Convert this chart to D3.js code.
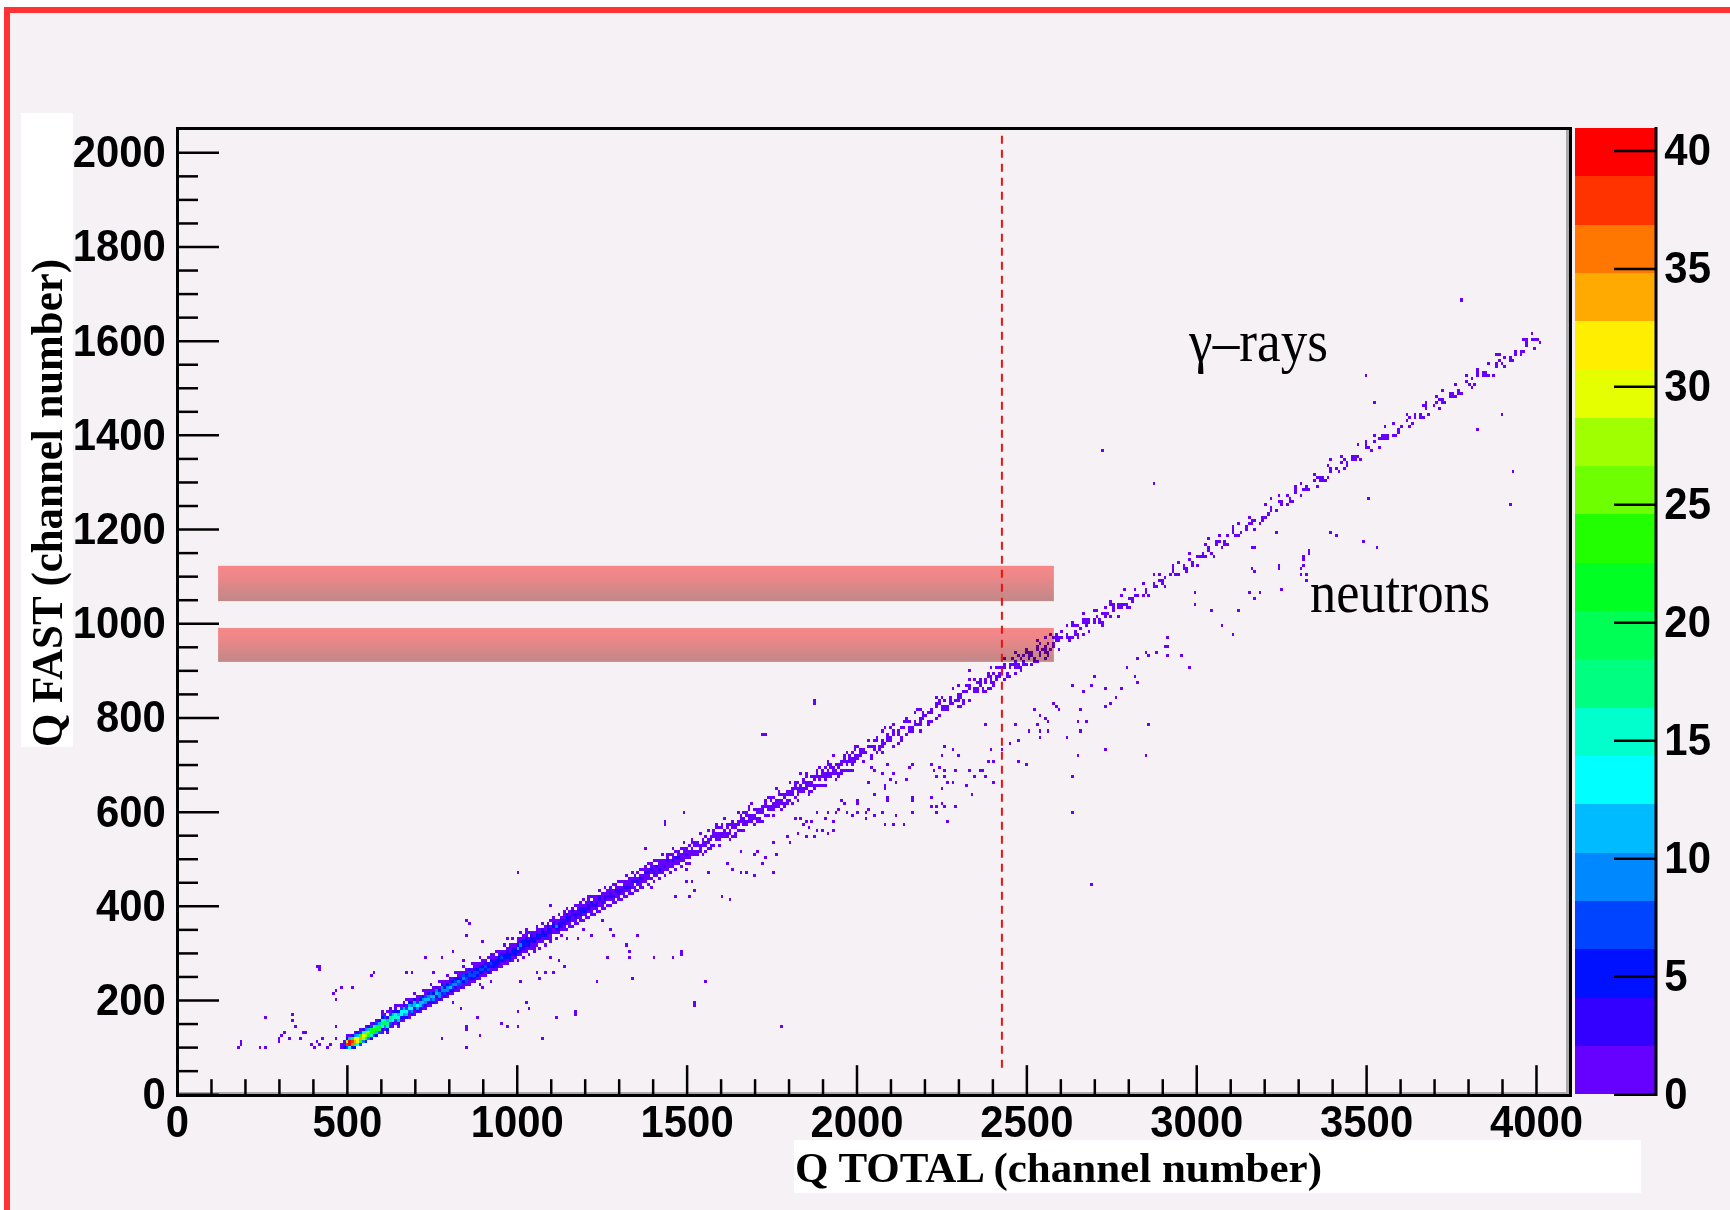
<!DOCTYPE html>
<html>
<head>
<meta charset="UTF-8">
<title>Q FAST vs Q TOTAL</title>
<script src="https://d3js.org/d3.v7.min.js"></script>
<style>
  html, body { margin: 0; padding: 0; background: #fff; }
  svg { display: block; }
  .tick text { font-family: "Liberation Sans", Arial, sans-serif; font-weight: bold; font-size: 45px; fill: #000; }
  .tick line { stroke: #000; stroke-width: 2.5px; }
</style>
</head>
<body>
<svg id="chart" width="1730" height="1210"></svg>
<script>

/* DATA */

// axis ranges (channels) and histogram binning
var qRange = [0, 4096];
var fRange = [0, 2048];
var zMax = 40.95;
var xBin = 8, yBin = 6.4;

var xMajor = [0, 500, 1000, 1500, 2000, 2500, 3000, 3500, 4000];
var xMinor = [100, 200, 300, 400, 600, 700, 800, 900, 1100, 1200, 1300, 1400, 1600, 1700, 1800, 1900,
  2100, 2200, 2300, 2400, 2600, 2700, 2800, 2900, 3100, 3200, 3300, 3400, 3600, 3700, 3800, 3900];
var yMajor = [0, 200, 400, 600, 800, 1000, 1200, 1400, 1600, 1800, 2000];
var yMinor = [50, 100, 150, 250, 300, 350, 450, 500, 550, 650, 700, 750, 850, 900, 950, 1050, 1100, 1150,
  1250, 1300, 1350, 1450, 1500, 1550, 1650, 1700, 1750, 1850, 1900, 1950];
var zTicks = [0, 5, 10, 15, 20, 25, 30, 35, 40];

// colour palette, 20 contours from 0 to zMax
var palette = ["#6600ff", "#3300ff", "#0011ff", "#0044ff", "#0088ff", "#00bbff", "#00ffff", "#00ffcc",
  "#00ff80", "#00ff55", "#00ff22", "#22ff00", "#6eff00", "#a0ff00", "#e5ff00", "#ffee00",
  "#ffaa00", "#ff7700", "#ff3300", "#ff0000"];

// gamma band, dense part: [Q total, lowest Q fast, counts in successive Q fast bins]
var gammaLow = [
  [480,96,[2,1]],[488,96,[5,2,1]],[496,96,[8,37,28,5,1]],[504,96,[14,39,39,12,2]],[512,97,[6,35,37,20,4]],
  [520,100,[6,24,34,30,9,1]],[528,104,[14,32,29,12,3]],[536,107,[7,23,33,24,8,2]],[544,110,[10,27,29,13,4]],
  [552,114,[5,19,27,25,9,2]],[560,117,[9,24,25,12,3]],[568,121,[4,15,24,22,8,1]],[576,124,[8,21,23,14,4]],
  [584,127,[3,12,22,19,7,2]],[592,131,[7,19,21,11,3]],
  [600,128,[1,4,14,20,16,5,1,1]],[608,131,[0,2,9,19,18,8,2]],[616,134,[1,5,15,18,12,4,0,1]],[624,137,[0,2,8,17,17,7,1,1]],
  [632,141,[1,4,13,16,11,3]],[640,144,[0,1,7,15,16,6,2,1]],[648,147,[1,3,11,15,12,4,0,1]],[656,150,[0,1,6,13,14,7,1]],
  [664,154,[1,3,10,14,11,3,1]],[672,157,[0,5,12,14,8,2,0,1]],[680,160,[1,2,7,13,12,5,1]],[688,163,[0,3,10,13,9,3,1]],
  [696,167,[1,1,6,12,12,5,0,1]],[704,170,[0,3,9,13,8,2,1]],[712,173,[1,5,11,12,6,1]],[720,176,[0,2,7,12,10,4,0,1]],
  [728,180,[1,3,9,11,7,2,1]],[736,183,[0,1,5,11,10,4,1]],[744,186,[1,3,8,11,7,2,0,1]],[752,189,[0,4,10,12,6,1,1]],
  [760,193,[1,2,6,11,9,3]],[768,196,[0,3,9,10,6,2,0,1]],[776,199,[1,1,5,10,9,4,1]],[784,202,[0,3,8,10,5,1,1]],
  [792,206,[1,4,9,9,5,2,0,1]],[800,209,[0,2,6,11,7,3,1]],[808,212,[1,3,8,9,5,1]],[816,215,[0,1,4,9,8,3,0,1]],
  [824,219,[1,2,7,9,5,2,1]],[832,222,[0,3,8,8,4,1,1]],[840,225,[1,1,5,9,7,2,0,1]],[848,228,[0,2,7,8,5,1,1]],
  [856,232,[1,1,4,8,7,3]],[864,235,[0,2,6,8,5,2,0,1]],[872,238,[1,3,7,7,3,1,1]],[880,241,[0,1,5,8,6,2,1]],
  [888,245,[1,2,6,7,4,1,0,1]],[896,248,[0,1,3,7,6,2,1]],[904,251,[1,2,6,7,4,1]],[912,254,[0,3,7,6,3,0,1]],
  [920,258,[1,1,4,7,5,2,1]],[928,261,[0,2,6,6,3,1,1]],[936,264,[1,3,6,6,2,0,1]],[944,267,[0,1,4,6,5,2,1]],
  [952,271,[1,2,5,7,3,1]],[960,274,[0,1,3,6,5,2,0,1]],[968,277,[1,2,5,6,3,1]],[976,280,[0,3,6,5,2,1,1]],
  [984,284,[1,1,4,6,4,1,0,1]],[992,287,[0,2,5,6,3,1]],
  [1000,286,[1,0,2,4,11,5,2,1]],[1008,289,[0,1,3,5,10,4,1,0,1]],[1016,293,[1,0,2,3,6,5,2,1]],[1024,296,[0,1,1,4,6,3,1,1]],
  [1032,299,[1,0,2,5,5,2,0,1]],[1040,303,[0,1,1,3,6,4,1]],[1048,306,[1,1,2,5,4,2,1]],[1056,309,[0,1,1,3,5,3,1,1]],
  [1064,313,[1,0,2,4,6,2,1]],[1072,316,[0,1,1,3,5,3,0,1]],[1080,319,[1,0,2,5,4,1,1]],[1088,322,[0,1,1,3,5,3,1]],
  [1096,326,[1,1,2,4,4,2,0,1]],[1104,329,[0,0,1,2,5,4,1,1]],[1112,332,[1,0,2,4,9,2,1]],[1120,336,[0,1,3,5,3,1,0,1]],
  [1128,339,[1,0,1,3,4,3,1]],[1136,342,[0,1,2,4,4,2,1,1]],[1144,346,[1,0,1,3,5,3,0,1]],[1152,349,[0,1,2,4,3,1,1]],
  [1160,352,[1,0,1,2,4,4,1]],[1168,356,[0,1,2,4,3,2,0,1]],[1176,359,[1,0,1,3,4,2,1]],[1184,362,[0,1,1,3,4,3,1,1]],
  [1192,365,[1,0,2,5,3,1,0,1]],[1200,369,[0,1,1,3,4,2,1]],[1208,372,[1,0,2,4,3,1,1,1]],[1216,375,[0,1,1,2,4,3,0,1]],
  [1224,379,[1,0,2,4,2,1,1]],[1232,382,[0,1,1,3,4,2,1]],[1240,385,[1,0,1,2,3,3,0,1]],[1248,389,[0,1,2,4,2,1,1]],
  [1256,392,[1,0,1,3,3,2,0,1]],[1264,395,[0,1,0,2,4,2,1]],[1272,399,[1,0,1,3,3,1,1]],[1280,402,[0,1,2,3,2,1,0,1]],
  [1288,405,[1,0,1,2,4,2,1]],[1296,408,[0,1,1,3,3,1,0,1]],[1304,412,[1,0,2,3,2,0,1]],[1312,415,[0,1,1,2,3,2,1]],
  [1320,418,[1,0,1,3,2,1,0,1]],[1328,422,[0,1,2,3,2,1,1]],[1336,425,[1,0,1,2,3,1,0,1]],[1344,428,[0,1,1,0,3,2,1]],
  [1352,432,[1,0,2,3,1,0,1]],[1360,435,[0,1,1,2,3,2,0,1]],[1368,438,[1,0,1,3,2,0,1]],[1376,442,[0,1,2,2,3,1,1]],
  [1384,445,[1,0,1,2,3,1,0,1]],[1392,448,[0,1,0,2,3,2,1]],[1400,452,[1,0,1,3,2,1,0,1]],[1408,455,[0,1,2,2,3,0,1]],
  [1416,458,[1,0,1,3,2,1,1]],[1424,461,[0,1,1,2,2,1,0,1]],[1432,465,[1,0,2,3,1,1]],[1440,468,[0,1,1,2,3,1,1]],
  [1448,471,[1,0,1,2,2,0,1]],[1456,475,[0,1,2,3,1,1,0,1]],[1464,478,[1,0,1,2,3,0,1]],[1472,481,[0,1,1,3,2,1]],
  [1480,485,[1,0,2,2,1,0,1]],[1488,488,[0,1,1,2,2,1,0,1]],[1496,491,[1,0,1,3,1,1]]
];

// gamma band, middle part
var gammaMid = [
  [1504,492,[1,0,1,2,1,0,1]],[1512,495,[0,0,1,1,1,0,1,1]],[1520,499,[0,0,2,1,0,1,1]],[1528,502,[0,1,1,0,2,1]],
  [1536,505,[0,0,1,2,1,0,0,0,1]],[1544,509,[1,0,0,2,1,1]],[1552,512,[1,0,1,1,0,1]],[1560,515,[0,1,0,1,1,0,0,1]],
  [1568,519,[1,1,0,1,1]],[1576,522,[0,1,0,0,1,2,1]],[1584,525,[0,0,1,1,1,0,1,1]],[1592,528,[1,0,1,2,1,0,1]],
  [1600,532,[0,0,2,1,0,1,1]],[1608,535,[0,0,1,2,1,0,0,0,1]],[1616,538,[0,1,1,0,2,1]],[1624,542,[1,0,1,1,0,1]],
  [1632,545,[1,0,0,2,1,1]],[1640,548,[1,1,0,1,1]],[1648,552,[0,1,0,1,1,0,0,1]],[1656,555,[0,1,0,0,1,2,1]],
  [1664,558,[1,0,1,2,1,0,1]],[1672,562,[0,0,2,1,0,1,1]],[1680,565,[0,0,1,1,1,0,1,1]],[1688,568,[0,0,1,2,1,0,0,0,1]],
  [1696,572,[1,0,1,1,0,1]],[1704,575,[0,1,1,0,2,1]],[1712,578,[1,1,0,1,1]],[1720,582,[1,0,0,2,1,1]],
  [1728,585,[0,1,0,0,1,2,1]],[1736,588,[0,1,0,1,1,0,0,1]],[1744,591,[0,0,2,1,0,1,1]],[1752,595,[1,0,1,2,1,0,1]],
  [1760,598,[0,0,1,2,1,0,0,0,1]],[1768,601,[0,0,1,1,1,0,1,1]],[1776,605,[1,0,1,1,0,1]],[1784,608,[1,1,0,1,1]],
  [1792,611,[0,1,1,0,2,1]],[1800,615,[0,1,0,1,1,0,0,1]],[1808,618,[1,0,0,2,1,1]],[1816,621,[0,1,0,0,1,2,1]],
  [1824,625,[1,0,1,2,1,0,1]],[1832,628,[0,0,1,2,1,0,0,0,1]],[1840,631,[0,0,2,1,0,1,1]],[1848,635,[0,0,1,1,1,0,1,1]],
  [1856,638,[1,1,0,1,1]],[1864,641,[1,0,1,1,0,1]],[1872,645,[0,1,1,0,2,1]],[1880,648,[0,1,0,0,1,2,1]],
  [1888,651,[0,1,0,1,1,0,0,1]],[1896,654,[1,0,0,2,1,1]],[1904,658,[1,0,1,2,1,0,1]],[1912,661,[0,0,1,1,1,0,1,1]],
  [1920,664,[0,0,2,1,0,1,1]],[1928,668,[0,0,1,2,1,0,0,0,1]],[1936,671,[1,0,1,1,0,1]],[1944,674,[1,1,0,1,1]],
  [1952,678,[0,1,1,0,2,1]],[1960,681,[0,1,0,0,1,2,1]],[1968,684,[0,1,0,1,1,0,0,1]],[1976,688,[1,0,0,2,1,1]],
  [1984,691,[1,0,1,2,1,0,1]],[1992,694,[0,0,1,1,1,0,1,1]]
];

// gamma band, upper sparse part
var gammaHigh = [
  [2000,698,[0,0,1,1,0,0,1]],[2008,701,[0,0,0,1,1,1]],[2016,705,[1,0,0,2,1]],[2024,708,[0,0,0,1]],
  [2032,711,[0,0,0,0,1,0,1]],[2040,715,[1,1,0,0,1]],[2048,718,[0,0,2,1,0,1]],[2056,721,[0,1,0,0,0,1,1]],
  [2064,725,[0,1,1]],[2072,728,[1,0,1,1,1,0,0,1]],[2080,731,[0,0,1,0,0,0,0,1]],[2088,735,[0,0,0,1,1,1]],
  [2096,738,[0,0,1,1,0,0,1]],[2104,741,[1,0,0,0,1,1,0,1]],[2120,748,[1,0,0,2,1]],[2128,751,[1,1,0,0,1]],
  [2136,755,[0,0,0,0,1,0,1]],[2144,758,[0,1,0,0,0,1,1]],[2152,761,[0,0,2,1,0,1]],[2160,764,[0,1,1]],
  [2168,768,[0,0,1,1,0,0,1]],[2176,771,[0,0,1,0,0,0,0,1]],[2184,774,[1,0,1,1,1,0,0,1]],[2192,778,[0,0,0,1,1,1]],
  [2200,781,[0,0,0,1]],[2208,784,[1,1,0,0,1]],[2216,788,[1,0,0,2,1]],[2232,794,[1,0,0,0,1,1,0,1]],
  [2240,797,[0,1,0,0,0,1,1]],[2248,801,[0,0,1,1,0,0,1]],[2256,804,[0,0,2,1,0,1]],[2264,807,[0,1,1]],
  [2272,811,[0,0,0,1,1,1]],[2280,814,[0,0,1,0,0,0,0,1]],[2288,817,[0,0,0,1]],[2296,821,[1,0,1,1,1,0,0,1]],
  [2304,824,[1,0,0,2,1]],[2312,827,[1,1,0,0,1]],[2320,831,[0,0,0,0,1,0,1]],[2328,834,[1,0,0,0,1,1,0,1]],
  [2344,841,[0,0,1,1,0,0,1]],[2352,844,[0,0,2,1,0,1]],[2360,847,[0,0,0,1,1,1]],[2368,851,[0,1,1]],
  [2376,854,[1,0,0,2,1]],[2384,857,[0,1,0,0,0,1,1]],[2392,861,[1,0,1,1,1,0,0,1]],[2400,864,[1,1,0,0,1]],
  [2408,867,[0,0,1,1,0,0,1]],[2416,871,[0,0,2,1,0,1]],[2424,874,[0,0,0,1,1,1]],[2432,877,[1,0,0,0,1,1,0,1]],
  [2440,881,[0,1,1]],[2448,884,[1,0,0,2,1]],[2456,887,[0,0,0,0,1,0,1]],[2464,891,[1,0,1,1,1,0,0,1]],
  [2472,894,[0,0,1,1,0,0,1]],[2480,897,[1,1,0,0,1]],[2488,901,[0,0,2,1,0,1]],[2496,904,[0,1,0,0,0,1,1]],
  [2504,907,[0,0,0,1,1,1]],[2512,911,[1,0,0,2,1]],[2520,914,[0,1,1]],[2528,917,[1,0,0,0,1,1,0,1]],
  [2536,921,[0,0,1,1,0,0,1]],[2544,924,[0,0,0,1]],[2552,927,[1,0,1,1,1,0,0,1]],[2560,931,[1,1,0,0,1]],
  [2568,934,[0,0,1,0,0,0,0,1]],[2576,937,[0,0,2,1,0,1]],[2584,941,[0,0,0,1,1,1]],[2592,944,[1,0,0,2,1]],
  [2600,947,[0,0,0,0,1,0,1]],[2616,954,[0,0,1,1,0,0,1]],[2624,957,[0,1,1]],[2632,960,[0,1,0,0,0,1,1]],
  [2640,964,[0,0,2,1,0,1]],[2648,967,[1,1,0,0,1]],[2656,970,[0,0,0,1]],[2664,974,[1,0,0,0,1,1,0,1]],
  [2672,977,[0,0,0,1,1,1]],[2680,980,[1,0,0,2,1]],[2696,987,[0,0,1,1,0,0,1]],[2704,990,[0,0,0,0,1,0,1]],
  [2712,994,[0,1,1]],[2720,997,[1,1,0,0,1]],[2728,1000,[0,0,2,1,0,1]],[2736,1004,[0,0,0,1]],
  [2744,1007,[0,1,0,0,0,1,1]],[2752,1010,[0,0,0,1,1,1]],[2768,1017,[1,0,0,2,1]],[2776,1020,[0,0,1,1,0,0,1]],
  [2784,1024,[0,0,1,0,0,0,0,1]],[2792,1027,[0,1,1]],
  [2800,1033,[1,0,0,1]],[2808,1037,[0,1,1]],[2816,1041,[0,0,0,1,0,1]],[2824,1044,[0,0,1]],
  [2840,1052,[0,1,0,0,0,1]],[2848,1055,[0,0,1,1]],[2856,1059,[1]],[2872,1066,[0,0,1,1,0,0,1]],
  [2880,1070,[0,1]],[2888,1074,[0,0,0,1,0,1]],[2896,1078,[0,1,1]],[2904,1081,[1,0,0,1]],
  [2920,1089,[0,0,1]],[2928,1092,[0,0,0,1,1,1]],[2936,1096,[0,1]],[2944,1100,[0,1,0,0,0,1]],
  [2960,1107,[0,0,1,1]],[2968,1111,[1]],[2976,1115,[0,0,0,1,0,1]],[2984,1118,[0,1,1]],
  [3000,1126,[1,0,0,1]],[3008,1129,[0,0,1]],[3016,1133,[0,1,1]],[3024,1137,[0,1,0,0,0,1]],
  [3032,1140,[0,0,1,1,0,0,1]],[3040,1144,[0,1]],[3056,1152,[0,0,1,1]],[3064,1155,[0,0,0,1,0,1]],
  [3072,1159,[1]],[3080,1163,[0,1,1]],[3088,1166,[1,0,0,1]],[3104,1174,[0,0,0,1,1,1]],
  [3112,1177,[0,0,1]],[3120,1181,[0,1,0,0,0,1]],[3128,1185,[0,1]],[3144,1192,[0,1,1]],
  [3152,1196,[0,0,0,1,0,1]],[3160,1200,[0,0,1,1]],[3168,1203,[1,0,0,1]],[3184,1211,[1]],
  [3192,1214,[0,1,1]],[3200,1218,[0,1,0,0,0,1]],[3208,1222,[0,0,1]],[3216,1226,[0,0,1,1,0,0,1]],
  [3232,1233,[0,1]],[3240,1237,[0,0,0,1,0,1]],[3248,1240,[0,0,1,1]],[3264,1248,[1,0,0,1]],
  [3272,1251,[0,1,1]],[3280,1255,[1]],[3288,1259,[0,0,0,1,1,1]],[3304,1266,[0,1,0,0,0,1]],
  [3312,1270,[0,0,1]],[3320,1274,[0,1,1]],[3328,1278,[0,1]],[3344,1285,[0,0,0,1,0,1]],
  [3352,1289,[1,0,0,1]],[3360,1292,[0,0,1,1]],[3368,1296,[0,1,1]],[3376,1300,[1]],
  [3384,1303,[0,1,0,0,0,1]],[3392,1307,[0,0,1,1,0,0,1]],[3408,1315,[0,0,1]],[3416,1318,[0,1]],
  [3424,1322,[0,0,0,1,0,1]],[3432,1326,[1,0,0,1]],[3440,1329,[0,1,1]],[3456,1337,[0,0,1,1]],
  [3464,1341,[0,1,1]],[3472,1344,[0,1,0,0,0,1]],[3480,1348,[1]],[3496,1355,[0,0,0,1,1,1]],
  [3504,1359,[0,0,1]],[3512,1363,[0,1]],[3520,1366,[0,0,0,1,0,1]],[3536,1374,[1,0,0,1]],
  [3544,1378,[0,0,1,1]],[3552,1381,[0,0,1,1,0,0,1]],[3560,1385,[0,1,1]],[3576,1392,[0,1,0,0,0,1]],
  [3584,1396,[1]],[3592,1400,[0,1,1]],[3600,1403,[0,0,1]],[3616,1411,[0,0,0,1,0,1]],
  [3624,1415,[1,0,0,1]],[3632,1418,[0,1]],[3640,1422,[0,0,1,1]],[3656,1429,[0,1,1]],
  [3664,1433,[0,1,0,0,0,1]],[3672,1437,[0,0,0,1,1,1]],[3680,1440,[1]],[3696,1448,[0,0,1]],
  [3704,1452,[0,0,0,1,0,1]],[3712,1455,[1,0,0,1]],[3720,1459,[0,0,1,1,0,0,1]],[3728,1463,[0,1]],
  [3744,1470,[0,0,1,1]],[3752,1474,[0,1,1]],[3760,1477,[0,1,0,0,0,1]],[3768,1481,[0,1,1]],
  [3776,1485,[1]],[3792,1492,[0,0,0,1,0,1]],[3800,1496,[0,0,1]],[3808,1500,[1,0,0,1]],
  [3816,1503,[0,1]],[3824,1507,[0,0,0,1,1,1]],[3840,1514,[0,0,1,1]],[3848,1518,[0,1,1]],
  [3856,1522,[0,1,0,0,0,1]],[3872,1529,[1]],[3880,1533,[0,0,1,1,0,0,1]],[3888,1537,[0,0,0,1,0,1]],
  [3896,1540,[0,0,1]],[3904,1544,[1,0,0,1]],[3920,1551,[0,1,1]],[3928,1555,[0,1]],
  [3936,1559,[0,0,1,1]],[3952,1566,[0,1,1]],[3960,1570,[0,1,0,0,0,1]],[3968,1574,[0,0,0,1,1,1]],
  [3984,1581,[0,0,0,1,0,1]],[3992,1585,[1,0,0,1]],[4000,1588,[0,0,1]],[4008,1592,[0,1]]
];

// single events off the gamma band (neutron band and stray hits): [Q total, Q fast]
var singleEvents = [
  [415,272],[577,257],[456,214],[480,225],[515,225],[471,200],[262,161],[341,168],[347,142],[315,134],
  [368,134],[383,134],[310,127],[297,120],[332,120],[367,120],[191,112],[182,102],[262,102],[297,110],
  [394,106],[410,110],[430,117],[402,102],[471,142],[471,117],[240,100],[420,104],[440,100],[455,106],
  [854,369],[854,335],[1003,473],[1098,401],[419,271],[677,257],[695,257],[759,257],[733,289],[780,289],
  [812,303],[897,320],[968,329],[1030,350],[1195,350],[1250,369],[1357,335],[1274,346],[1324,318],[1333,303],
  [1486,303],[1265,289],[1333,289],[1404,289],[1457,289],[1145,329],[1183,329],[1218,335],[1283,335],[1098,289],
  [1120,282],[1142,274],[1057,257],[1080,257],[1106,257],[1009,240],[1068,246],[1239,238],[1342,246],[1527,193],
  [1030,193],[1039,185],[1003,174],[1168,174],[1115,161],[959,153],[971,142],[1003,142],[882,161],[854,146],
  [854,138],[889,127],[777,120],[1077,120],[854,100],[812,193],[836,185],[900,227],[927,238],[895,233],
  [1526,188],[1776,141],[1558,239],[1484,300],[1169,169],[1438,574],[1000,469],[857,363],[844,284],[416,267],
  [260,164],[188,103],[341,159],[471,218],[575,251],[1877,830],[1724,762],[2636,675],[2857,781],[2695,445],
  [2721,1365],[2877,1294],
  [1872,832],[1728,766],[1489,596],[1439,577],[1377,524],[2328,898],[2260,741],[2287,734],[2251,722],[2301,722],
  [2216,700],[2225,688],[2243,694],[2260,688],[2295,688],[2154,694],[2163,700],[2092,700],[2042,694],[2048,688],
  [2075,681],[2110,681],[2034,662],[2101,668],[2119,662],[2148,668],[2269,662],[2236,673],[2081,653],[2081,647],
  [2048,634],[2001,624],[2004,617],[1957,624],[1963,618],[2089,624],[2163,624],[1951,607],[2039,607],[1883,596],
  [1918,596],[1942,596],[1972,596],[2001,596],[2028,596],[2048,590],[1990,590],[1910,583],[1928,577],[1822,587],
  [1839,583],[1848,577],[1866,577],[1842,571],[1860,564],[1880,558],[1900,558],[1915,552],[1928,558],[1825,552],
  [1848,545],[1875,545],[1798,545],[1754,535],[1807,535],[1657,518],[1710,518],[1701,511],[1766,507],[1728,501],
  [1722,490],[1657,471],[1675,471],[1701,463],[1754,471],[1633,479],[1616,490],[1563,471],[1498,479],[1519,450],
  [1501,448],[1524,433],[1395,439],[1471,416],[1510,420],[1604,420],[1630,414],
  [3170,1161],[3170,1108],[3243,1114],[3255,1070],[3314,1140],[3314,1125],[3305,1106],[3320,1091],[3331,1150],[3152,1067],
  [3170,1055],[3184,1063],[2999,1063],[2993,1042],[3040,1025],[3122,1025],[3078,993],[3108,974],[2913,970],[2913,949],
  [2855,940],[2860,934],[2887,940],[2905,949],[2913,934],[2958,934],[2978,904],[2825,925],[2796,904],[2816,889],
  [2825,876],[2701,885],[2690,868],[2666,855],[2634,864],[2728,859],[2781,859],[2766,840],[2746,828],[2731,821],
  [2660,815],[2651,791],[2675,791],[2660,770],[2590,823],[2599,819],[2578,828],[2522,815],[2540,806],[2556,798],
  [2566,791],[2543,770],[2566,770],[2510,774],[2531,783],[2616,758],[2543,758],[2475,751],[2454,747],[2398,734],
  [2369,685],[2351,673],[2381,673],[2407,660],[2387,709],[2407,709],[2431,730],[2475,709],[2496,702],[2331,685],
  [2363,685],[2257,673],[2284,664],[2251,651],[2325,658],[2337,637],[2160,628],[2222,628],[2251,615],[2239,611],
  [2263,611],[2295,611],[2216,611],[2092,628],[2078,600],[2116,592],[2160,596],[2234,596],[2269,581],[2031,583],
  [2087,575],[2104,571],[2142,571],[2634,600],[2651,721],[2728,734],[2855,721],[2466,785],[2381,785],
  [3776,1685],[3499,1526],[3523,1471],[3899,1445],[3829,1411],[3935,1320],[3926,1254],[2725,1367],[2878,1295],[3508,1263],
  [3393,1191],[3411,1184],[3490,1176],[3531,1163],[3237,1191],[3167,1163],[3331,1157],[3314,1133],[3305,1118],[3325,1101],
  [3246,1125],[3167,1118],[3049,1144],[2975,1118]
];

// shaded Q fast windows: [Q total from, Q total to, Q fast low, Q fast high]
var windows = [[121, 2581, 1047, 1122], [121, 2581, 918, 990]];
// dashed cut at Q total
var cutQ = 2428, cutF = [55, 2035];

var annotations = [
  {text: "\u03b3\u2013rays", q: 2979, f: 1557, len: 139},
  {text: "neutrons", q: 3335, f: 1024, len: 180}
];

/* DRAW */

var svg = d3.select("#chart");
var x = d3.scaleLinear().domain(qRange).range([177, 1568.6]);
var y = d3.scaleLinear().domain(fRange).range([1094.2, 129.7]);
var z = d3.scaleLinear().domain([0, zMax]).range([1094.2, 128]);

// page background, red border
svg.append("rect").attr("width", 1730).attr("height", 1210).attr("fill", "#fff");
svg.append("rect").attr("x", 7).attr("y", 10).attr("width", 1740).attr("height", 1220)
  .attr("fill", "#f6f1f5").attr("stroke", "#ff3333").attr("stroke-width", 6);

// white boxes behind the axis titles
svg.append("rect").attr("x", 21).attr("y", 113).attr("width", 52).attr("height", 634).attr("fill", "#fff");
svg.append("rect").attr("x", 794).attr("y", 1140).attr("width", 847).attr("height", 53).attr("fill", "#fff");

// fill the histogram
var cells = new Map();
function fill(i, j, c) {
  var key = i + "," + j;
  var cell = cells.get(key);
  if (cell) cell.c += c; else cells.set(key, {i: i, j: j, c: c});
}
gammaLow.concat(gammaMid, gammaHigh).forEach(function(col) {
  var i = Math.floor(col[0] / xBin + 1e-9);
  var j0 = Math.floor(col[1] / yBin + 1e-9);
  col[2].forEach(function(c, k) { if (c > 0) fill(i, j0 + k, c); });
});
singleEvents.forEach(function(d) {
  fill(Math.floor(d[0] / xBin + 1e-9), Math.floor(d[1] / yBin + 1e-9), 1);
});

function colorOf(c) {
  return palette[Math.max(0, Math.min(19, Math.floor(c / (zMax / 20))))];
}

svg.append("g")
    .attr("class", "cells")
    .attr("shape-rendering", "crispEdges")
  .selectAll("rect")
  .data(Array.from(cells.values()))
  .enter().append("rect")
    .attr("x", function(d) { return x(d.i * xBin); })
    .attr("y", function(d) { return y((d.j + 1) * yBin); })
    .attr("width", function(d) { return x((d.i + 1) * xBin) - x(d.i * xBin); })
    .attr("height", function(d) { return y(d.j * yBin) - y((d.j + 1) * yBin); })
    .attr("fill", function(d) { return colorOf(d.c); });

// shaded windows
var defs = svg.append("defs");
var grad = defs.append("linearGradient").attr("id", "band").attr("x1", 0).attr("y1", 0).attr("x2", 0).attr("y2", 1);
grad.append("stop").attr("offset", "0%").attr("stop-color", "#ff908e");
grad.append("stop").attr("offset", "30%").attr("stop-color", "#f68f8e");
grad.append("stop").attr("offset", "100%").attr("stop-color", "#c7908e");

svg.append("g").selectAll("rect")
  .data(windows)
  .enter().append("rect")
    .attr("x", function(d) { return x(d[0]); })
    .attr("y", function(d) { return y(d[3]); })
    .attr("width", function(d) { return x(d[1]) - x(d[0]); })
    .attr("height", function(d) { return y(d[2]) - y(d[3]); })
    .attr("fill", "url(#band)")
    .style("mix-blend-mode", "multiply");

// dashed cut line
svg.append("line")
  .attr("x1", x(cutQ)).attr("x2", x(cutQ))
  .attr("y1", y(cutF[1])).attr("y2", y(cutF[0]))
  .attr("stroke", "#f01010").attr("stroke-width", 2)
  .attr("stroke-dasharray", "8,6");

// frame
svg.append("path")
  .attr("d", "M1567.5,129V1093.5H177")
  .attr("fill", "none").attr("stroke", "#aaa").attr("stroke-width", 3);
svg.append("rect").attr("x", 177.5).attr("y", 128.5).attr("width", 1393).attr("height", 967)
  .attr("fill", "none").attr("stroke", "#000").attr("stroke-width", 3);

// axes
function styleAxis(g) {
  g.select(".domain").remove();
  g.selectAll(".tick text").attr("transform", "scale(0.93,1)");
}

svg.append("g").attr("transform", "translate(177,0)")
  .call(d3.axisLeft(y).tickValues(yMinor).tickSize(-21).tickFormat(""))
  .call(styleAxis);
svg.append("g").attr("transform", "translate(177,0)")
  .call(d3.axisLeft(y).tickValues(yMajor).tickSize(-42).tickPadding(12).tickFormat(d3.format("d")))
  .call(styleAxis);

svg.append("g").attr("transform", "translate(0,1094.2)")
  .call(d3.axisBottom(x).tickValues(xMinor).tickSize(-15).tickFormat(""))
  .call(styleAxis);
svg.append("g").attr("transform", "translate(0,1094.2)")
  .call(d3.axisBottom(x).tickValues(xMajor).tickSize(-29).tickPadding(11).tickFormat(d3.format("d")))
  .call(styleAxis);

// colour bar
var barX = 1575, barW = 81;
svg.append("g").attr("shape-rendering", "crispEdges").selectAll("rect")
  .data(palette)
  .enter().append("rect")
    .attr("x", barX)
    .attr("y", function(d, i) { return z((i + 1) * zMax / 20); })
    .attr("width", barW)
    .attr("height", function(d, i) { return z(i * zMax / 20) - z((i + 1) * zMax / 20); })
    .attr("fill", function(d) { return d; });
svg.append("line").attr("x1", barX + barW).attr("x2", barX + barW).attr("y1", 127).attr("y2", 1096)
  .attr("stroke", "#000").attr("stroke-width", 3);
svg.append("g").attr("transform", "translate(" + (barX + barW) + ",0)")
  .call(d3.axisRight(z).tickValues(zTicks).tickSize(-42).tickPadding(9).tickFormat(d3.format("d")))
  .call(styleAxis);

// axis titles
svg.append("text")
  .attr("transform", "translate(62,503) rotate(-90)")
  .attr("text-anchor", "middle")
  .attr("textLength", 488).attr("lengthAdjust", "spacingAndGlyphs")
  .style("font-family", "'Liberation Serif', 'Times New Roman', serif")
  .style("font-weight", "bold").style("font-size", "45px")
  .text("Q FAST (channel number)");

svg.append("text")
  .attr("x", 795).attr("y", 1182)
  .attr("textLength", 527).attr("lengthAdjust", "spacingAndGlyphs")
  .style("font-family", "'Liberation Serif', 'Times New Roman', serif")
  .style("font-weight", "bold").style("font-size", "43px")
  .text("Q TOTAL (channel number)");

// annotations
svg.append("g").selectAll("text")
  .data(annotations)
  .enter().append("text")
    .attr("x", function(d) { return x(d.q); })
    .attr("y", function(d) { return y(d.f); })
    .attr("textLength", function(d) { return d.len; })
    .attr("lengthAdjust", "spacingAndGlyphs")
    .style("font-family", "'Liberation Serif', 'Times New Roman', serif")
    .style("font-size", "60px")
    .text(function(d) { return d.text; });

</script>
</body>
</html>
